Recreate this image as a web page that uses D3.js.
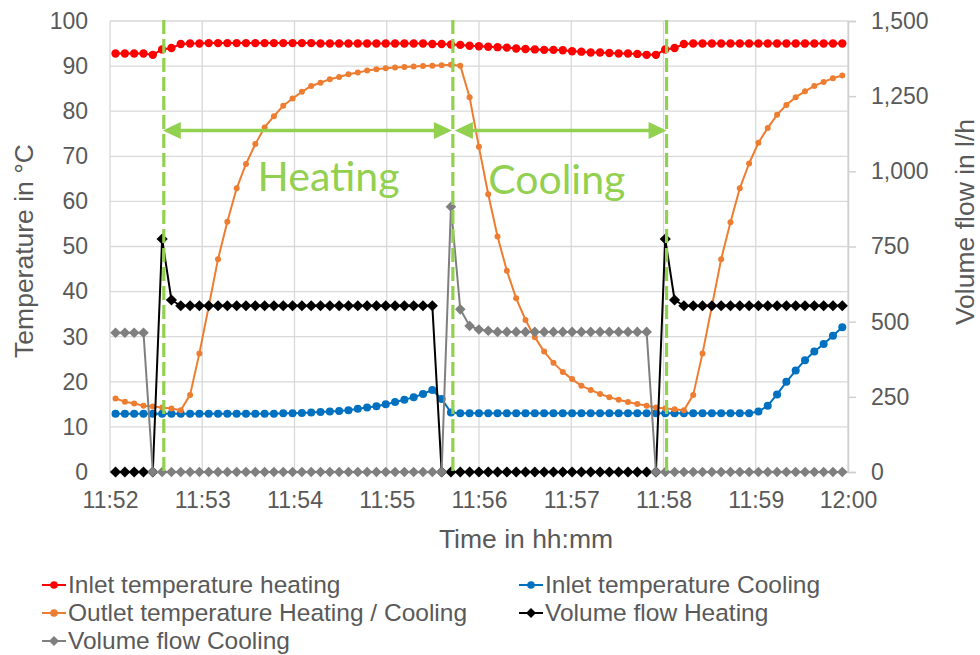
<!DOCTYPE html>
<html>
<head>
<meta charset="utf-8">
<script src="https://cdn.jsdelivr.net/npm/d3@7"></script>
<style>
  html, body { margin: 0; padding: 0; background: #fff; }
  svg { display: block; }
</style>
</head>
<body>
<svg id="chart" width="980" height="655"></svg>
<script>
// ---- Measurement data: one sample every ~6 s from 11:52 to 12:00 ----
const sampleOffsetSec = 3.6;   // first sample after 11:52:00
const sampleStepSec = 6.06;    // logging interval

// Inlet temperature heating (°C)
const inletHeating = [
  92.8, 92.8, 92.8, 92.8, 92.5, 93.7, 94.0, 94.9,
  95.0, 95.0, 95.1, 95.1, 95.1, 95.1, 95.1, 95.1, 95.1, 95.1, 95.1, 95.1, 95.1, 95.1,
  95.0, 95.0, 95.0, 95.0, 95.0, 95.0, 95.0, 95.0, 95.0, 95.0, 95.0, 95.0, 94.9, 94.9,
  94.8, 94.7, 94.5, 94.4, 94.3, 94.2, 94.1, 93.9, 93.8, 93.7, 93.6, 93.6, 93.5, 93.3,
  93.2, 93.0, 93.0, 92.9, 92.8, 92.8, 92.7, 92.5, 92.5,
  93.7, 94.0, 94.9,
  95.0, 95.0, 95.0, 95.0, 95.0, 95.0, 95.0, 95.0, 95.0, 95.0, 95.0, 95.0, 95.0, 95.0,
  95.0, 95.0, 95.0
];

// Inlet temperature cooling (°C)
const inletCooling = [
  12.9, 12.9, 12.9, 12.9, 12.9, 12.9, 12.9, 12.9, 12.9, 12.9, 12.9, 12.9, 12.9, 12.9,
  12.9, 12.9, 12.9,
  12.9, 13.0, 13.0, 13.1, 13.2, 13.3, 13.4, 13.5, 13.7, 14.0, 14.3, 14.6, 15.0, 15.5,
  16.0, 16.6, 17.3, 18.2, 16.2, 13.2,
  13.0, 13.0, 13.0, 13.0, 13.0, 13.0, 13.0, 13.0, 13.0, 13.0, 13.0, 13.0, 13.0, 13.0,
  13.0, 13.0, 13.0, 13.0, 13.0, 13.0, 13.0, 13.0, 13.0, 13.0, 13.0, 13.0, 13.0, 13.0,
  13.0, 13.0, 13.0, 13.0,
  13.4, 14.7, 17.2, 20.0, 22.5, 24.8, 26.7, 28.4, 30.2, 32.1
];

// Outlet temperature heating / cooling (°C)
const outletTemp = [
  16.3, 15.6, 15.2, 14.7, 14.5, 14.3, 14.1, 13.7, 17.1, 26.3, 36.7, 47.2, 55.5, 62.9,
  68.3, 72.7, 76.4, 78.9, 81.2, 82.8, 84.3, 85.6, 86.3, 87.1, 87.6, 88.2, 88.6, 89.0,
  89.3, 89.5, 89.7, 89.8, 89.9, 90.0, 90.1, 90.2, 90.3, 90.1, 83.1, 72.1, 61.6, 52.2,
  44.6, 38.5, 33.7, 29.9, 26.7, 24.2, 22.2, 20.6, 19.1, 18.2, 17.3, 16.6, 16.0, 15.5,
  15.1, 14.7, 14.3, 14.1, 13.9, 13.7, 17.1, 26.3, 36.7, 47.2, 55.4, 62.9, 68.4, 73.0,
  76.3, 79.2, 81.4, 83.1, 84.4, 85.6, 86.5, 87.3, 87.9
];

// Volume flow heating (l/h)
const flowHeating = [
  0, 0, 0, 0, 0, 775, 572,
  553, 553, 553, 553, 553, 553, 553, 553, 553, 553, 553, 553, 553, 553,
  553, 553, 553, 553, 553, 553, 553, 553, 553, 553, 553, 553, 553, 553,
  0, 0, 0, 0, 0, 0, 0, 0, 0, 0, 0, 0, 0, 0, 0, 0, 0, 0, 0, 0, 0, 0, 0, 0,
  775, 572,
  553, 553, 553, 553, 553, 553, 553, 553, 553, 553, 553, 553, 553, 553, 553, 553, 553, 553
];

// Volume flow cooling (l/h)
const flowCooling = [
  463, 463, 463, 463,
  0, 0, 0, 0, 0, 0, 0, 0, 0, 0, 0, 0, 0, 0, 0, 0,
  0, 0, 0, 0, 0, 0, 0, 0, 0, 0, 0, 0, 0, 0, 0, 0,
  882, 541, 486, 474, 470,
  466, 466, 466, 466, 466, 466, 466, 466, 466, 466, 466, 466, 466, 466, 466, 466, 466,
  0, 0, 0, 0, 0, 0, 0, 0, 0, 0, 0, 0, 0, 0, 0, 0, 0, 0, 0, 0, 0
];

// Axis ticks and phase annotations
const tempTicks = [0, 10, 20, 30, 40, 50, 60, 70, 80, 90, 100];
const flowTicks = [0, 250, 500, 750, 1000, 1250, 1500];
const timeDomain = ["11:52:00", "12:00:00"];
const phaseBoundaries = ["11:52:35", "11:55:43", "11:58:02"];
const phaseLabels = ["Heating", "Cooling"];

// ---- Layout ----
const W = 980, H = 655;
const plot = { left: 110, right: 848, top: 21, bottom: 472 };
const axisColor = "#595959";
const gridColor = "#d9d9d9";
const green = "#92d050";
const font = "'Liberation Sans', Arial, sans-serif";

const parseT = d3.timeParse("%H:%M:%S");
const t0 = parseT(timeDomain[0]);
const times = d3.range(inletHeating.length)
  .map(i => new Date(+t0 + (sampleOffsetSec + i * sampleStepSec) * 1000));

const x = d3.scaleTime().domain(timeDomain.map(parseT)).range([plot.left, plot.right]);
const yT = d3.scaleLinear().domain([0, 100]).range([plot.bottom, plot.top]);
const yF = d3.scaleLinear().domain([0, 1500]).range([plot.bottom, plot.top]);

const svg = d3.select("#chart");
svg.append("rect").attr("width", W).attr("height", H).attr("fill", "#fff");

// Gridlines
const grid = svg.append("g");
grid.selectAll("line.h").data(tempTicks).join("line")
  .attr("x1", plot.left).attr("x2", plot.right)
  .attr("y1", d => yT(d)).attr("y2", d => yT(d))
  .attr("stroke", gridColor).attr("stroke-width", 1.3);
grid.selectAll("line.v").data(x.ticks(d3.timeMinute.every(1))).join("line")
  .attr("x1", d => x(d)).attr("x2", d => x(d))
  .attr("y1", plot.top).attr("y2", plot.bottom)
  .attr("stroke", gridColor).attr("stroke-width", 1.3);

// Left axis (temperature)
const leftAxis = svg.append("g")
  .attr("transform", `translate(${plot.left},0)`)
  .call(d3.axisLeft(yT).tickValues(tempTicks).tickSize(0).tickPadding(22));
leftAxis.select(".domain").remove();
leftAxis.selectAll("text").attr("font-family", font).attr("font-size", 23).attr("fill", axisColor);

// Right axis (volume flow)
const rightAxis = svg.append("g")
  .attr("transform", `translate(${plot.right},0)`)
  .call(d3.axisRight(yF).tickValues(flowTicks).tickFormat(d3.format(",")).tickSize(8).tickPadding(15));
rightAxis.select(".domain").attr("stroke", "#d0d0d0").attr("stroke-width", 1.5);
rightAxis.selectAll(".tick line").attr("stroke", "#d0d0d0").attr("stroke-width", 1.5);
rightAxis.selectAll("text").attr("font-family", font).attr("font-size", 23).attr("fill", axisColor);

// Bottom axis (time)
const bottomAxis = svg.append("g")
  .attr("transform", `translate(0,${plot.bottom})`)
  .call(d3.axisBottom(x).ticks(d3.timeMinute.every(1)).tickFormat(d3.timeFormat("%H:%M")).tickSize(0).tickPadding(20));
bottomAxis.select(".domain").attr("stroke", "#d0d0d0").attr("stroke-width", 1.3);
bottomAxis.selectAll("text").attr("font-family", font).attr("font-size", 23).attr("fill", axisColor);

// Axis titles
svg.append("text")
  .attr("transform", "translate(33,251) rotate(-90)")
  .attr("text-anchor", "middle").attr("font-family", font).attr("font-size", 26.5)
  .attr("fill", axisColor).text("Temperature in °C");
svg.append("text")
  .attr("transform", "translate(974,222) rotate(-90)")
  .attr("text-anchor", "middle").attr("font-family", font).attr("font-size", 26.5)
  .attr("fill", axisColor).text("Volume flow in l/h");
svg.append("text")
  .attr("x", 526).attr("y", 548)
  .attr("text-anchor", "middle").attr("font-family", font).attr("font-size", 26.5)
  .attr("fill", axisColor).text("Time in hh:mm");

// Marker shapes
const diamondPath = r => `M0,${-r}L${r},0L0,${r}L${-r},0Z`;

const series = [
  { name: "Inlet temperature heating", values: inletHeating, scale: yT, color: "#ff0000", shape: "circle", r: 4.2, lw: 2 },
  { name: "Inlet temperature Cooling", values: inletCooling, scale: yT, color: "#0070c0", shape: "circle", r: 4.0, lw: 2 },
  { name: "Outlet temperature Heating / Cooling", values: outletTemp, scale: yT, color: "#ed7d31", shape: "circle", r: 3.0, lw: 2 },
  { name: "Volume flow Heating", values: flowHeating, scale: yF, color: "#000000", shape: "diamond", r: 5.6, lw: 2 },
  { name: "Volume flow Cooling", values: flowCooling, scale: yF, color: "#7f7f7f", shape: "diamond", r: 5.3, lw: 2 }
];

const plotG = svg.append("g");
series.forEach(s => {
  const pts = s.values.map((v, i) => [times[i], v]);
  const line = d3.line().x(d => x(d[0])).y(d => s.scale(d[1]));
  const g = plotG.append("g");
  g.append("path").datum(pts).attr("d", line)
    .attr("fill", "none").attr("stroke", s.color).attr("stroke-width", s.lw)
    .attr("stroke-linejoin", "round");
  if (s.shape === "circle") {
    g.selectAll("circle").data(pts).join("circle")
      .attr("cx", d => x(d[0])).attr("cy", d => s.scale(d[1])).attr("r", s.r)
      .attr("fill", s.color);
  } else {
    g.selectAll("path.m").data(pts).join("path").attr("class", "m")
      .attr("transform", d => `translate(${x(d[0])},${s.scale(d[1])})`)
      .attr("d", diamondPath(s.r)).attr("fill", s.color);
  }
});

// Phase annotations: dashed boundaries, double arrows, labels
const ann = svg.append("g");
const bx = phaseBoundaries.map(t => x(parseT(t)));
bx.forEach(px => {
  ann.append("line")
    .attr("x1", px).attr("x2", px).attr("y1", plot.top - 1).attr("y2", plot.bottom + 4)
    .attr("stroke", green).attr("stroke-width", 3.2).attr("stroke-dasharray", "14,5");
});

const arrowY = yT(75.7);
const headL = 18, headH = 8.5;
function doubleArrow(xa, xb) {
  ann.append("line")
    .attr("x1", xa + headL - 2).attr("x2", xb - headL + 2)
    .attr("y1", arrowY).attr("y2", arrowY)
    .attr("stroke", green).attr("stroke-width", 3.5);
  ann.append("path")
    .attr("d", `M${xa},${arrowY}L${xa + headL},${arrowY - headH}L${xa + headL},${arrowY + headH}Z`)
    .attr("fill", green);
  ann.append("path")
    .attr("d", `M${xb},${arrowY}L${xb - headL},${arrowY - headH}L${xb - headL},${arrowY + headH}Z`)
    .attr("fill", green);
}
doubleArrow(bx[0] - 1, bx[1] - 1);
doubleArrow(bx[1] + 2, bx[2]);

const labelSpecs = [
  { text: phaseLabels[0], time: "11:53:36", temp: 62.3 },
  { text: phaseLabels[1], time: "11:56:06", temp: 61.6 }
];
labelSpecs.forEach(l => {
  ann.append("text")
    .attr("x", x(parseT(l.time))).attr("y", yT(l.temp))
    .attr("font-family", "Lato, 'Open Sans', sans-serif").attr("font-size", 41)
    .attr("fill", green).text(l.text);
});

// Legend
const legendItems = [
  { s: series[0], x: 54, y: 585 },
  { s: series[1], x: 531, y: 585 },
  { s: series[2], x: 54, y: 613 },
  { s: series[3], x: 531, y: 613 },
  { s: series[4], x: 54, y: 641 }
];
const leg = svg.append("g");
legendItems.forEach(it => {
  const g = leg.append("g").attr("transform", `translate(${it.x},${it.y})`);
  g.append("line").attr("x1", -12).attr("x2", 12).attr("y1", 0).attr("y2", 0)
    .attr("stroke", it.s.color).attr("stroke-width", 2);
  if (it.s.shape === "circle") {
    g.append("circle").attr("r", 3.8).attr("fill", it.s.color);
  } else {
    g.append("path").attr("d", diamondPath(5)).attr("fill", it.s.color);
  }
  g.append("text").attr("x", 14).attr("y", 8)
    .attr("font-family", font).attr("font-size", 24.5).attr("fill", axisColor)
    .text(it.s.name);
});
</script>
</body>
</html>
